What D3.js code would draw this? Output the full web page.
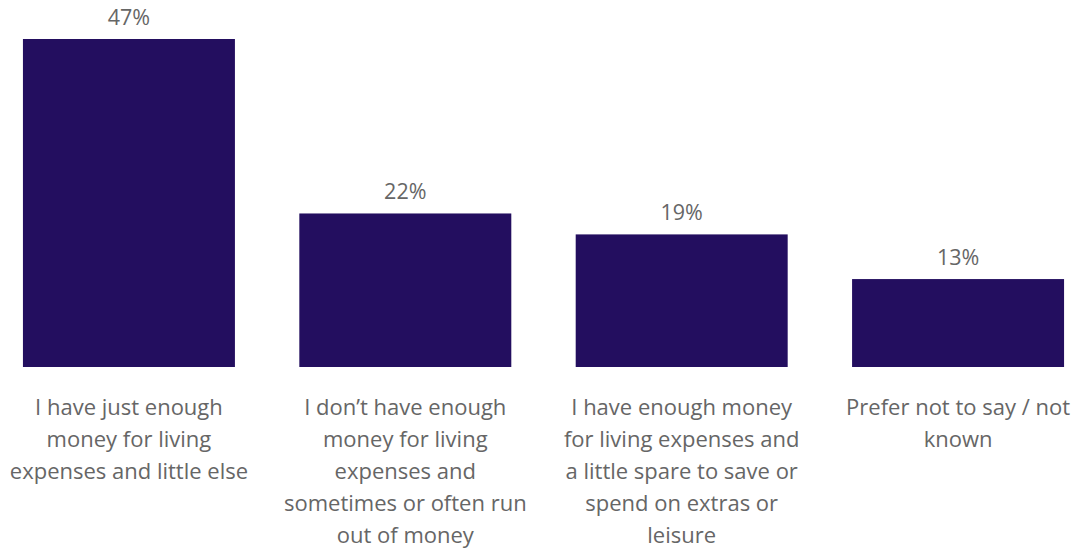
<!DOCTYPE html>
<html>
<head>
<meta charset="utf-8">
<script src="https://cdn.jsdelivr.net/npm/d3@7"></script>
<style>
  body { margin: 0; background: #fff; }
  text { font-family: "Segoe UI", "Open Sans", sans-serif; fill: #666; }
</style>
</head>
<body>
<div id="chart"></div>
<script>
const categories = ['just-enough', 'not-enough', 'enough-spare', 'prefer-not'];
const values = [47, 22, 19, 12.6];
const categoryLines = [
  ['I have just enough', 'money for living', 'expenses and little else'],
  ['I don\u2019t have enough', 'money for living', 'expenses and', 'sometimes or often run', 'out of money'],
  ['I have enough money', 'for living expenses and', 'a little spare to save or', 'spend on extras or', 'leisure'],
  ['Prefer not to say / not', 'known']
];

const width = 1083;
const height = 551;
const baseY = 367;
const topY = 39;

const svg = d3.select('#chart')
  .append('svg')
  .attr('width', width)
  .attr('height', height);

const x = d3.scaleBand()
  .domain(categories)
  .range([0, 1087])
  .paddingInner(0.233)
  .paddingOuter(0.083);

const y = d3.scaleLinear()
  .domain([0, 47])
  .range([baseY, topY]);

// bars
svg.append('g')
  .selectAll('rect')
  .data(values)
  .join('rect')
  .attr('x', (d, i) => x(categories[i]))
  .attr('y', d => y(d))
  .attr('width', x.bandwidth())
  .attr('height', d => baseY - y(d))
  .attr('fill', '#230e5f');

// value labels
svg.append('g')
  .selectAll('text')
  .data(values)
  .join('text')
  .attr('x', (d, i) => x(categories[i]) + x.bandwidth() / 2)
  .attr('y', d => y(d) - 14)
  .attr('text-anchor', 'middle')
  .attr('font-size', 21.5)
  .text(d => Math.round(d) + '%');

// category labels, wrapped as in the original
const cat = svg.append('g')
  .selectAll('text')
  .data(categoryLines)
  .join('text')
  .attr('text-anchor', 'middle')
  .attr('font-size', 22);

cat.selectAll('tspan')
  .data((d, i) => d.map(line => ({ line, i })))
  .join('tspan')
  .attr('x', d => x(categories[d.i]) + x.bandwidth() / 2)
  .attr('y', (d, j) => 415 + j * 32)
  .text(d => d.line);
</script>
</body>
</html>
